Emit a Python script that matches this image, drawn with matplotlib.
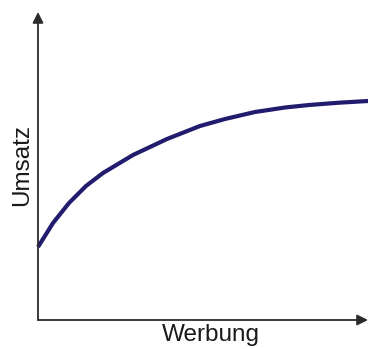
import numpy as np
import matplotlib.pyplot as plt

# Werbung (x) vs. Umsatz (y) (arbitrary units)
werbung = [0, 15, 31, 48, 65, 95, 129, 162, 187, 217, 247, 271, 301, 330]
umsatz = [73, 97, 117, 134, 147, 165, 181, 194, 201, 208, 212.5, 215, 217.3, 219]

x_label = "Werbung"
y_label = "Umsatz"

W, H = 368, 349
fig = plt.figure(figsize=(W / 100, H / 100), dpi=100)
plt.rcParams['font.family'] = ['Liberation Sans', 'DejaVu Sans']

# axes box: origin at (38, 320) px, right end 368 px, top 12 px
ax = fig.add_axes([38 / W, (H - 320) / H, 330 / W, 308 / H])
ax.set_xlim(0, 330)
ax.set_ylim(0, 308)
for s in ax.spines.values():
    s.set_visible(False)
ax.set_xticks([])
ax.set_yticks([])
ax.patch.set_alpha(0)

axis_col = "#2b2b2b"
arrow = dict(arrowstyle="-|>", color=axis_col, lw=1.3, mutation_scale=16,
             shrinkA=0, shrinkB=0)
ax.annotate("", xy=(0, 1), xytext=(0, 0), xycoords="axes fraction",
            arrowprops=arrow, annotation_clip=False)
ax.annotate("", xy=(1, 0), xytext=(0, 0), xycoords="axes fraction",
            arrowprops=arrow, annotation_clip=False)

ax.plot(werbung, umsatz, color="#221c6e", lw=3, solid_capstyle="butt",
        solid_joinstyle="round", clip_on=False)

fig.text(211 / W, 1 - 335 / H, x_label, fontsize=17.5, ha="center",
         va="center", color="#1a1a1a")
fig.text(22 / W, 1 - 165 / H, y_label, fontsize=17.5, ha="center",
         va="center", rotation=90, color="#1a1a1a")

fig.savefig("out.png", dpi=100)
